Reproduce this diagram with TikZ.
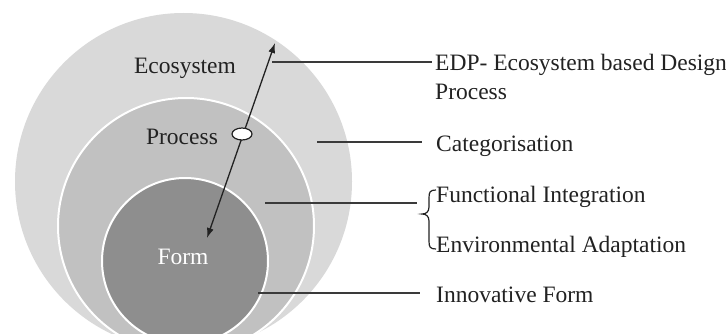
\documentclass[tikz,border=0pt]{standalone}
\usepackage{fontspec}
\setmainfont{Liberation Serif}
\usetikzlibrary{arrows.meta,shapes.geometric}
\definecolor{ringA}{HTML}{D9D9D9}
\definecolor{ringB}{HTML}{C1C1C1}
\definecolor{ringC}{HTML}{8E8E8E}
\definecolor{ink}{HTML}{222222}
\definecolor{wire}{HTML}{3A3A3A}
\begin{document}
\begin{tikzpicture}[x=1pt,y=-1pt,
  ring/.style={circle,inner sep=0pt},
  lbl/.style={text=ink,font=\fontsize{23.5}{23.5}\selectfont,inner sep=0pt},
  note/.style={lbl,anchor=base west},
  leader/.style={draw=wire,line width=1.3pt},
  dbl/.style={draw=ink,line width=1.3pt,{Latex[length=10pt,width=7pt]}-{Latex[length=10pt,width=7pt]}}]
\useasboundingbox (0,0) rectangle (726,334);
\clip (0,0) rectangle (726,334);
\fill[white] (0,0) rectangle (726,334);

% nested circles
\node[ring,fill=ringA,minimum size=337pt] (eco) at (183.5,181.5) {};
\node[ring,fill=ringB,draw=white,line width=2pt,minimum size=256pt] (proc) at (186,226) {};
\node[ring,fill=ringC,draw=white,line width=2pt,minimum size=166pt] (form) at (185,261) {};

% circle titles
\node[lbl] (tEco) at (185,68) {Ecosystem};
\node[lbl] (tProc) at (182,137) {Process};
\node[lbl,text=white] (tForm) at (183,257) {Form};

% double arrow with the hub marker
\coordinate (lo) at (207,238);
\coordinate (hi) at (275,43);
\draw[dbl] (lo) -- (hi);
\node[ellipse,draw=ink,fill=white,line width=1.2pt,minimum width=20pt,minimum height=12pt,inner sep=0pt] (hub) at (242,134) {};

% right-hand notes
\node[note] (edp) at (435,71) {EDP- Ecosystem based Design};
\node[note] (edp2) at (435,100) {Process};
\node[note] (cat) at (436,152) {Categorisation};
\node[note] (fun) at (436,202) {Functional Integration};
\node[note] (env) at (436,252) {Environmental Adaptation};
\node[note] (inn) at (436,302) {Innovative Form};

% leader lines
\coordinate (s1) at (272,62);  \coordinate (e1) at (432,62);
\coordinate (s2) at (317,142); \coordinate (e2) at (422,142);
\coordinate (s3) at (265,203); \coordinate (e3) at (417,203);
\coordinate (s4) at (258,293); \coordinate (e4) at (420,293);
\draw[leader] (s1) -- (e1);
\draw[leader] (s2) -- (e2);
\draw[leader] (s3) -- (e3);
\draw[leader] (s4) -- (e4);

% curly brace grouping the two middle notes
\draw[draw=ink,line width=1.2pt]
  (436,190) .. controls (430,190) and (429,192) .. (429,198) -- (429,207)
  .. controls (429,212) and (426,214) .. (422,214)
  .. controls (426,214) and (429,216) .. (429,221) -- (429,241)
  .. controls (429,247) and (430,249) .. (436,249);
\end{tikzpicture}
\end{document}
